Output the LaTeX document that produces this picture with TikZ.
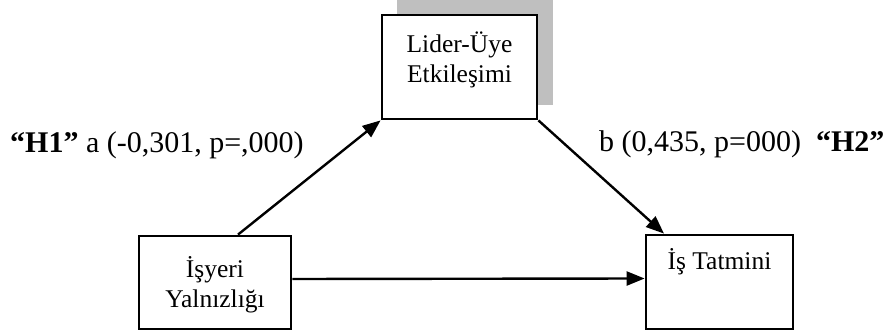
\documentclass[tikz,border=0pt]{standalone}
\usepackage{fontspec}
\setmainfont{Liberation Serif}
\usetikzlibrary{arrows.meta,positioning}

\definecolor{golge}{rgb}{0.75,0.75,0.75}

\begin{document}
\begin{tikzpicture}[x=1pt,y=-1pt,
    kutu/.style={draw=black, fill=white, line width=2.8pt, inner sep=0pt},
    yazi/.style={inner sep=0pt, align=center, font=\fontsize{25.5}{30}\selectfont},
    etiket/.style={inner sep=0pt, anchor=base west, font=\fontsize{30}{36}\selectfont},
    ok/.style={line width=2.4pt, -{Triangle[length=18pt,width=14pt]}}] %1
            \useasboundingbox (0,0) rectangle (889,336);

            \fill[golge] (397,0) rectangle (553,105);

            \node[kutu, minimum width=155pt, minimum height=104pt] (lue) at (459.5,67) {};
            \node[kutu, minimum width=152pt, minimum height=93pt] (iy) at (215,282.5) {};
            \node[kutu, minimum width=147pt, minimum height=94pt] (it) at (719.5,282) {};

            \node[yazi, anchor=base] (lueyazi) at (459.5,83) {Lider-Üye\\Etkileşimi};
            \node[yazi, anchor=base] (iyyazi) at (215,308) {İşyeri\\Yalnızlığı};
            \node[yazi, anchor=base] (ityazi) at (719.5,270) {İş Tatmini};

            \node[etiket] (h1) at (10,153) {\textbf{“H1”} a (-0,301, p=,000)};
            \node[etiket] (h2) at (599,152) {b (0,435, p=000)\hspace{0.5em}\textbf{“H2”}};

            \draw[ok] ([xshift=23pt]iy.north) -- (lue.south west);
            \draw[ok] (lue.south east) -- ([xshift=-55.5pt]it.north);
            \draw[ok] ([yshift=3.5pt]iy.east) -- ([yshift=3.5pt]it.west);
        \end{tikzpicture}
\end{document}
